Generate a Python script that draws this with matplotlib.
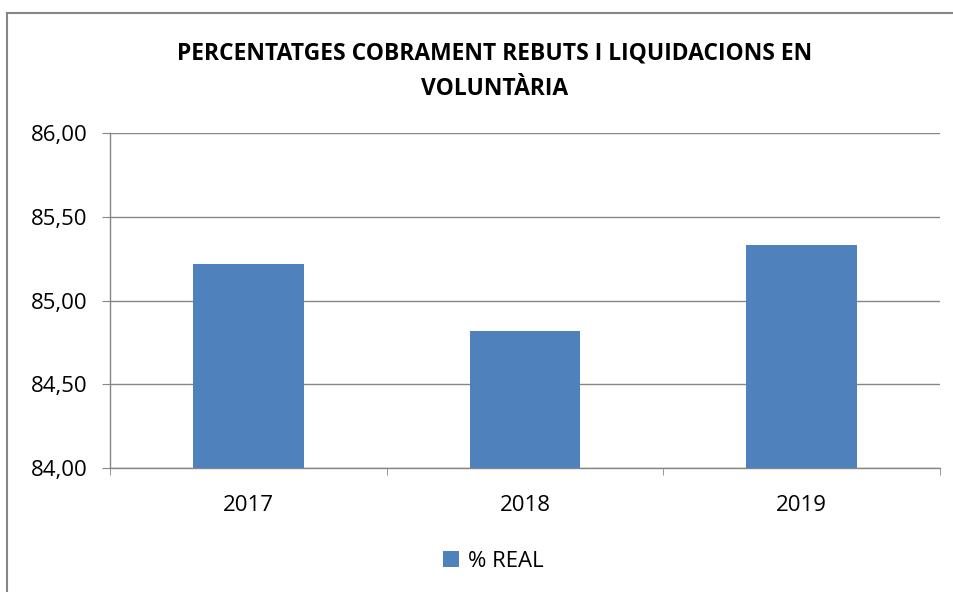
import matplotlib
matplotlib.use("Agg")
import matplotlib.pyplot as plt
from matplotlib.lines import Line2D

years = ["2017", "2018", "2019"]
real_pct = [85.22, 84.82, 85.33]
y_ticks = [84.0, 84.5, 85.0, 85.5, 86.0]
y_tick_labels = ["84,00", "84,50", "85,00", "85,50", "86,00"]

BAR_BLUE = "#4f81bd"
GRID_GRAY = "#868686"
plt.rcParams["font.family"] = ["Open Sans", "DejaVu Sans"]

fig = plt.figure(figsize=(9.54, 5.92), dpi=100)
ax = fig.add_axes([0.1153, 0.2089, 0.870, 0.5669])

x = list(range(len(years)))
ax.bar(x, [v - 84.0 for v in real_pct], bottom=84.0, width=0.4, color=BAR_BLUE, zorder=3, label="% REAL")

ax.set_xlim(-0.5, len(years) - 0.5)
ax.set_ylim(84.0, 86.0)
ax.set_yticks(y_ticks)
ax.set_yticklabels(y_tick_labels, fontsize=16)
ax.set_xticks(x)
ax.set_xticklabels(years, fontsize=16)
ax.tick_params(axis="x", length=0, pad=19)
ax.tick_params(axis="y", length=6, color=GRID_GRAY, pad=10)
ax.set_xticks([i - 0.5 for i in range(len(years) + 1)], minor=True)
ax.tick_params(axis="x", which="minor", length=5, color=GRID_GRAY)

ax.grid(axis="y", color=GRID_GRAY, linewidth=1.0, zorder=0)
for side in ["top", "right"]:
    ax.spines[side].set_visible(False)
for side in ["left", "bottom"]:
    ax.spines[side].set_color(GRID_GRAY)
    ax.spines[side].set_linewidth(1.0)

fig.text(0.518, 0.880, "PERCENTATGES COBRAMENT REBUTS I LIQUIDACIONS EN\nVOLUNTÀRIA",
         ha="center", va="center", fontsize=16.5, fontweight="bold", linespacing=1.65)

ax.legend(loc="center", bbox_to_anchor=(0.517, 0.052), bbox_transform=fig.transFigure,
          frameon=False, fontsize=16, handlelength=0.7, handleheight=0.7, handletextpad=0.4)

# outer chart frame: only top and left edges are visible in the crop
fig.lines.append(Line2D([0.0073, 1.0], [0.9785, 0.9785], transform=fig.transFigure,
                        color=GRID_GRAY, linewidth=1.5))
fig.lines.append(Line2D([0.0073, 0.0073], [0.0, 0.9785], transform=fig.transFigure,
                        color=GRID_GRAY, linewidth=1.5))

fig.savefig("out.png", dpi=100, facecolor="white")
